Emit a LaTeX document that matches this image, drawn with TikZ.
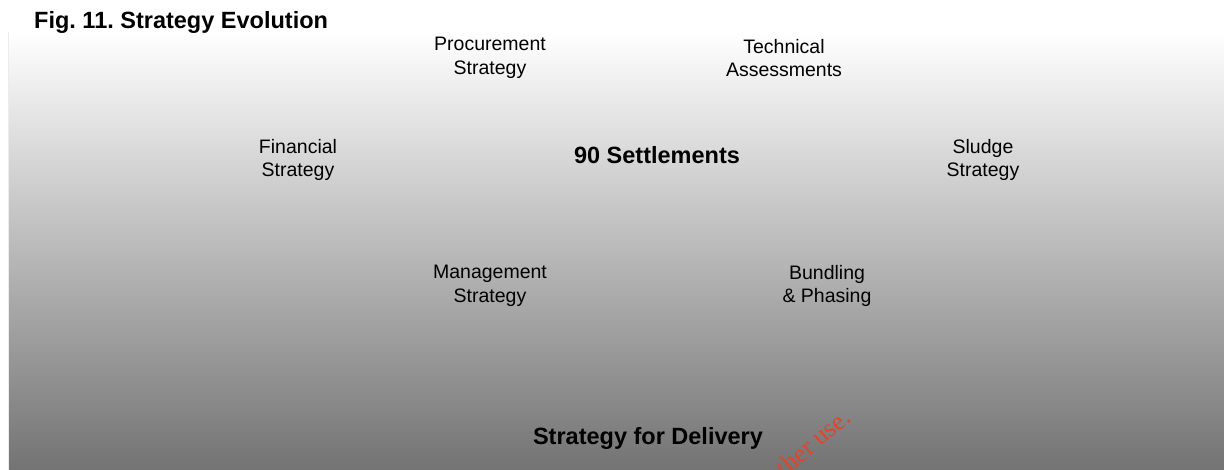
\documentclass[tikz,border=0pt]{standalone}
\usepackage{fontspec}
\setmainfont{Liberation Sans}
\newfontfamily\wmfont{Liberation Serif}
\definecolor{bottomgray}{RGB}{115,115,115}
\definecolor{wmred}{RGB}{222,70,45}
\frenchspacing
\begin{document}
\begin{tikzpicture}[x=1pt,y=-1pt,
  label/.style={align=center,inner sep=0pt,font=\fontsize{19.5}{23.5}\selectfont},
  boldlabel/.style={align=center,inner sep=0pt,font=\fontsize{23.5}{28}\selectfont\bfseries}]
\useasboundingbox (0,0) rectangle (1224,470);
\fill[white] (0,0) rectangle (1224,470);
\shade[top color=white, bottom color=bottomgray] (8,32) rectangle (1224,470);
\draw[white!85!gray, line width=1pt] (8.5,32) -- (8.5,470);
\node[boldlabel, anchor=west] (title) at (34,22) {Fig.\ 11.\ Strategy Evolution};
\node[label] (proc) at (490,58) {Procurement\\Strategy};
\node[label] (tech) at (784,58) {Technical\\Assessments};
\node[label] (fin) at (298,160) {Financial\\Strategy};
\node[boldlabel] (settle) at (657,155) {90 Settlements};
\node[label] (sludge) at (983,160) {Sludge\\Strategy};
\node[label] (mgmt) at (490,286) {Management\\Strategy};
\node[label] (bund) at (827,286) {Bundling\\\& Phasing};
\node[boldlabel] (deliv) at (648,438) {Strategy for Delivery};
\begin{scope}
\clip (0,0) rectangle (1224,470);
\node[inner sep=0pt, text=wmred, rotate=40, font=\wmfont\fontsize{26}{30}\selectfont] (wm) at (813,442) {ther use.};
\end{scope}
\end{tikzpicture}
\end{document}
